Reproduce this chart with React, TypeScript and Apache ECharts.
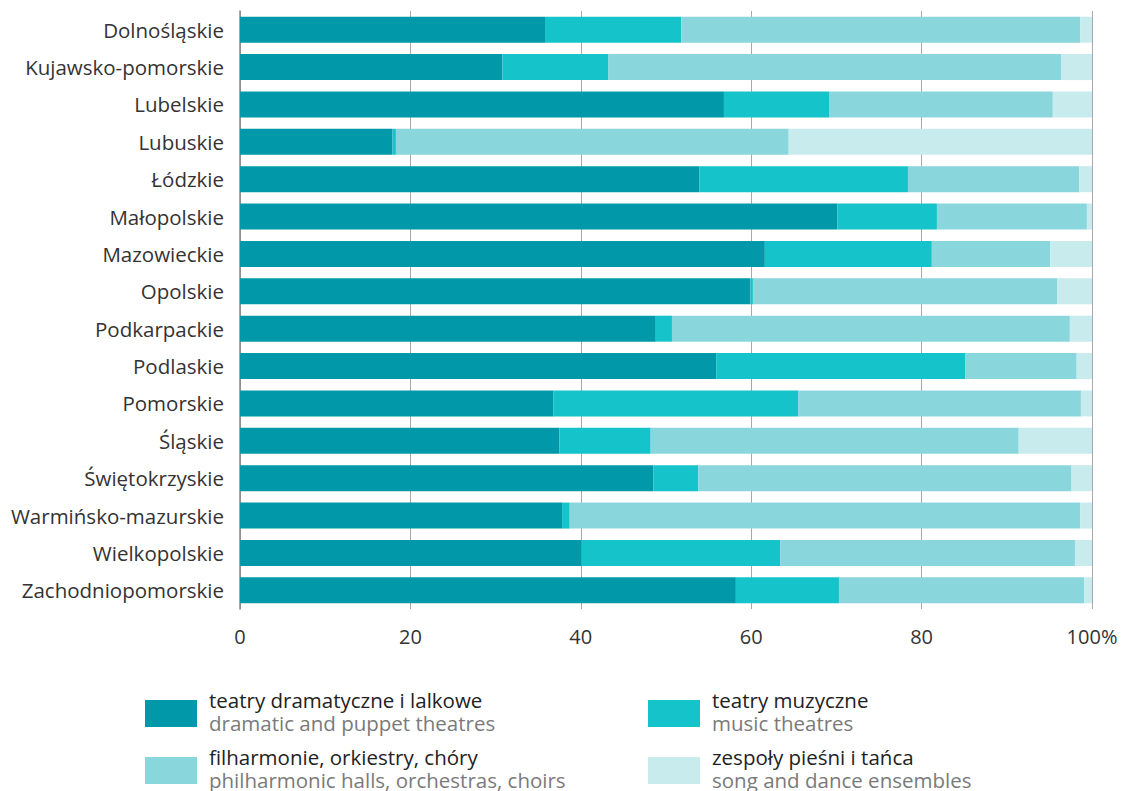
import React, { useEffect, useRef } from "react";
import * as echarts from "echarts";

const regions = [
  "Dolnośląskie",
  "Kujawsko-pomorskie",
  "Lubelskie",
  "Lubuskie",
  "Łódzkie",
  "Małopolskie",
  "Mazowieckie",
  "Opolskie",
  "Podkarpackie",
  "Podlaskie",
  "Pomorskie",
  "Śląskie",
  "Świętokrzyskie",
  "Warmińsko-mazurskie",
  "Wielkopolskie",
  "Zachodniopomorskie",
];

const dramatic = [35.8, 30.8, 56.8, 17.9, 53.9, 70.1, 61.6, 59.9, 48.8, 55.9, 36.8, 37.5, 48.5, 37.8, 40.1, 58.2];
const music = [16.0, 12.4, 12.4, 0.4, 24.5, 11.7, 19.6, 0.3, 1.9, 29.2, 28.7, 10.7, 5.3, 0.9, 23.3, 12.1];
const philharmonic = [46.8, 53.2, 26.2, 46.1, 20.1, 17.6, 13.9, 35.7, 46.7, 13.1, 33.2, 43.2, 43.8, 59.9, 34.6, 28.8];
const songDance = [1.4, 3.6, 4.6, 35.6, 1.5, 0.6, 4.9, 4.1, 2.6, 1.8, 1.3, 8.6, 2.4, 1.4, 2.0, 0.9];

const xTicks = [0, 20, 40, 60, 80, 100];

const seriesNamesPl = [
  "teatry dramatyczne i lalkowe",
  "teatry muzyczne",
  "filharmonie, orkiestry, chóry",
  "zespoły pieśni i tańca",
];
const seriesNamesEn = [
  "dramatic and puppet theatres",
  "music theatres",
  "philharmonic halls, orchestras, choirs",
  "song and dance ensembles",
];
const colors = ["#0199a9", "#15c4ca", "#89d7dc", "#c8ebee"];

const FONT = "'Open Sans', 'Noto Sans', sans-serif";

export default function App() {
  const ref = useRef<HTMLDivElement>(null);
  useEffect(() => {
    if (!ref.current) return;
    const chart = echarts.init(ref.current, undefined, { renderer: "svg" });
    const values = [dramatic, music, philharmonic, songDance];

    const legendPos = [
      { x: 145, y: 700 },
      { x: 648, y: 700 },
      { x: 145, y: 757 },
      { x: 648, y: 757 },
    ];
    const LH = 22.5;
    const graphic: any[] = [];
    legendPos.forEach((p, i) => {
      graphic.push({
        type: "rect",
        left: p.x,
        top: p.y,
        shape: { width: 52, height: 27 },
        style: { fill: colors[i] },
      });
      graphic.push({
        type: "text",
        x: p.x + 64,
        y: p.y - LH / 2,
        style: {
          text: `{a|${seriesNamesPl[i]}}\n{b|${seriesNamesEn[i]}}`,
          verticalAlign: "top",
          rich: {
            a: { fill: "#222", fontSize: 20.5, fontFamily: FONT, lineHeight: LH },
            b: { fill: "#7a7a7a", fontSize: 20.5, fontFamily: FONT, lineHeight: LH },
          },
        },
      });
    });

    chart.setOption({
      animation: false,
      grid: { left: 240, right: 34, top: 11, height: 598 },
      xAxis: {
        type: "value",
        min: 0,
        max: 100,
        interval: 20,
        axisLine: { show: false },
        axisTick: { show: false },
        splitLine: { show: true, lineStyle: { color: "#a8a8a8", width: 1 } },
        axisLabel: {
          margin: 17,
          color: "#333",
          fontSize: 20,
          fontFamily: FONT,
          formatter: (v: number) => (v === xTicks[xTicks.length - 1] ? `${v}%` : `${v}`),
        },
      },
      yAxis: {
        type: "category",
        data: regions,
        inverse: true,
        axisLine: { show: true, lineStyle: { color: "#888", width: 1.5 } },
        axisTick: { show: false },
        axisLabel: {
          margin: 16,
          color: "#333",
          fontSize: 20.5,
          fontFamily: FONT,
        },
      },
      series: values.map((d, i) => ({
        type: "bar",
        name: seriesNamesPl[i],
        stack: "total",
        data: d,
        barWidth: 26,
        itemStyle: { color: colors[i] },
        emphasis: { disabled: true },
      })),
      graphic,
    });
    return () => chart.dispose();
  }, []);
  return (
    <div
      ref={ref}
      style={{ position: "fixed", left: 0, top: 0, width: 1126, height: 791, background: "#fff" }}
    />
  );
}
